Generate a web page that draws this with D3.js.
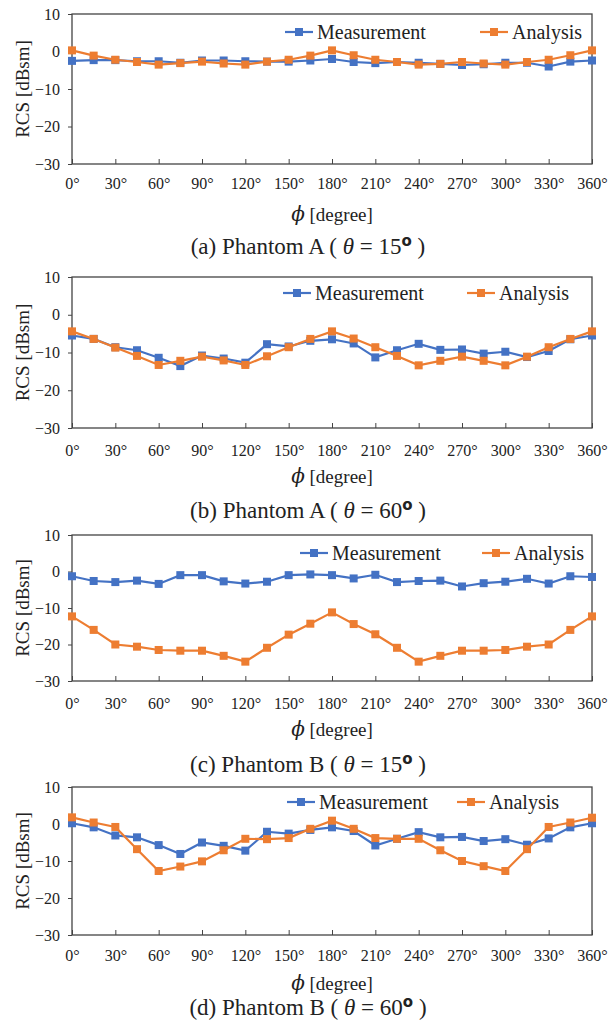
<!DOCTYPE html>
<html>
<head>
<meta charset="utf-8">
<script src="https://cdn.jsdelivr.net/npm/d3@7"></script>
<style>
  body { margin: 0; background: #fff; }
  text { font-family: "Liberation Serif", "DejaVu Serif", serif; fill: #222; }
</style>
</head>
<body>
<script>
var phi = d3.range(0, 361, 15)

var xTicks = d3.range(0, 361, 30)
var yTicks = [10, 0, -10, -20, -30]

var seriesNames = ['Measurement', 'Analysis']

var captions = [
  ['(a) Phantom A ( ', '15'],
  ['(b) Phantom A ( ', '60'],
  ['(c) Phantom B ( ', '15'],
  ['(d) Phantom B ( ', '60']
]

var measA15 = [-2.5, -2.3, -2.3, -2.6, -2.6, -3.0, -2.4, -2.4, -2.6, -2.7, -2.7, -2.4, -2.0, -2.8, -3.1, -2.8, -3.0, -3.3, -3.6, -3.4, -3.0, -3.0, -4.0, -2.7, -2.4]
var anaA15 = [0.3, -1.1, -2.2, -2.8, -3.5, -3.1, -2.7, -3.2, -3.5, -2.7, -2.2, -1.1, 0.3, -1.0, -2.2, -2.8, -3.5, -3.3, -2.8, -3.2, -3.5, -2.8, -2.2, -1.0, 0.3]

var measA60 = [-5.5, -6.4, -8.6, -9.4, -11.4, -13.6, -10.8, -11.6, -12.7, -7.8, -8.4, -6.9, -6.5, -7.6, -11.3, -9.4, -7.7, -9.3, -9.2, -10.3, -9.8, -11.2, -9.6, -6.5, -5.5]
var anaA60 = [-4.4, -6.4, -8.7, -10.9, -13.3, -12.2, -11.1, -12.1, -13.3, -11.0, -8.6, -6.4, -4.4, -6.3, -8.6, -10.9, -13.4, -12.2, -11.1, -12.2, -13.4, -11.1, -8.6, -6.4, -4.4]

var measB15 = [-1.3, -2.6, -2.9, -2.5, -3.4, -1.0, -1.0, -2.7, -3.3, -2.8, -1.0, -0.8, -1.0, -1.9, -0.9, -2.9, -2.6, -2.5, -4.1, -3.2, -2.8, -2.0, -3.3, -1.3, -1.5]
var anaB15 = [-12.3, -16.0, -20.0, -20.6, -21.5, -21.7, -21.7, -23.1, -24.7, -20.9, -17.3, -14.3, -11.2, -14.4, -17.2, -20.9, -24.7, -23.1, -21.7, -21.7, -21.5, -20.6, -20.0, -16.0, -12.3]

var measB60 = [0.2, -0.9, -3.1, -3.6, -5.7, -8.1, -5.0, -5.9, -7.2, -2.1, -2.6, -1.6, -0.9, -1.9, -5.8, -4.0, -2.2, -3.6, -3.5, -4.6, -4.1, -5.6, -3.9, -0.9, 0.2]
var anaB60 = [1.8, 0.4, -0.8, -6.8, -12.7, -11.5, -10.1, -7.1, -4.0, -4.1, -3.8, -1.3, 0.9, -1.3, -3.8, -4.0, -4.0, -7.1, -10.0, -11.4, -12.7, -6.8, -0.8, 0.4, 1.7]

var panelData = [
  [measA15, anaA15],
  [measA60, anaA60],
  [measB15, anaB15],
  [measB60, anaB60]
]

var colors = ['#4472c4', '#ed7d31']

// layout per panel: plot top/bottom, legend positions, label baselines
var layout = [
  {top: 14, bottom: 164, legY: 32, legM: 285, legA: 480, tickY: 189, phiY: 221, capY: 254},
  {top: 277, bottom: 428, legY: 293, legM: 283, legA: 467, tickY: 456, phiY: 483, capY: 518},
  {top: 535, bottom: 681, legY: 553, legM: 300, legA: 482, tickY: 709, phiY: 736, capY: 772},
  {top: 787, bottom: 935, legY: 802, legM: 287, legA: 457, tickY: 961, phiY: 990, capY: 1015}
]

var svg = d3.select('body').append('svg')
  .attr('width', 610).attr('height', 1032)

var left = 72, right = 592

layout.forEach(function(L, i){
  var g = svg.append('g')
  var x = d3.scaleLinear().domain([0, 360]).range([left, right])
  var y = d3.scaleLinear().domain([-30, 10]).range([L.bottom, L.top])

  // y axis ticks + labels
  var yAxis = d3.axisLeft(y).tickValues(yTicks).tickSize(4).tickPadding(8).tickFormat(d3.format('d'))
  var ya = g.append('g').attr('transform', 'translate(' + left + ',0)').call(yAxis)
  ya.select('.domain').remove()
  ya.selectAll('line').attr('stroke', '#444')
  ya.selectAll('text').attr('font-size', 16).attr('font-family', '"Liberation Serif", serif').attr('fill', '#222')

  // x axis ticks inside
  var xAxis = d3.axisBottom(x).tickValues(xTicks).tickSize(-5).tickFormat(function(d){ return d + '°' })
  var xa = g.append('g').attr('transform', 'translate(0,' + L.bottom + ')').call(xAxis)
  xa.select('.domain').remove()
  xa.selectAll('line').attr('stroke', '#444')
  xa.selectAll('text').attr('y', null).attr('dy', null)
    .attr('transform', 'translate(0,' + (L.tickY - L.bottom) + ')')
    .attr('font-size', 16).attr('font-family', '"Liberation Serif", serif').attr('fill', '#222')

  // frame
  g.append('rect')
    .attr('x', left).attr('y', L.top)
    .attr('width', right - left).attr('height', L.bottom - L.top)
    .attr('fill', 'none').attr('stroke', '#444').attr('stroke-width', 1.3)

  var line = d3.line().x(function(d, j){ return x(phi[j]) }).y(function(d){ return y(d) })

  panelData[i].forEach(function(vals, k){
    g.append('path').attr('d', line(vals))
      .attr('fill', 'none').attr('stroke', colors[k]).attr('stroke-width', 2.2)
    g.selectAll(null).data(vals).enter().append('rect')
      .attr('x', function(d, j){ return x(phi[j]) - 4 })
      .attr('y', function(d){ return y(d) - 4 })
      .attr('width', 8).attr('height', 8)
      .attr('fill', colors[k])
  })

  // legend
  ;[L.legM, L.legA].forEach(function(lx, k){
    g.append('line').attr('x1', lx).attr('x2', lx + 28)
      .attr('y1', L.legY).attr('y2', L.legY)
      .attr('stroke', colors[k]).attr('stroke-width', 2.2)
    g.append('rect').attr('x', lx + 14 - 4).attr('y', L.legY - 4)
      .attr('width', 8).attr('height', 8).attr('fill', colors[k])
    g.append('text').attr('x', lx + 32).attr('y', L.legY + 7)
      .attr('font-size', 20).text(seriesNames[k])
  })

  // y label
  g.append('text')
    .attr('transform', 'translate(29,' + ((L.top + L.bottom) / 2) + ') rotate(-90)')
    .attr('text-anchor', 'middle').attr('font-size', 19)
    .text('RCS [dBsm]')

  // x label
  var xl = g.append('text').attr('x', 332).attr('y', L.phiY)
    .attr('text-anchor', 'middle').attr('font-size', 19)
  xl.append('tspan').attr('font-style', 'italic').attr('font-family', '"DejaVu Serif", serif').attr('font-size', 20).text('ϕ')
  xl.append('tspan').text('  [degree]')

  // caption
  var cap = g.append('text').attr('x', 308).attr('y', L.capY)
    .attr('text-anchor', 'middle').attr('font-size', 23)
  cap.append('tspan').text(captions[i][0])
  cap.append('tspan').attr('font-style', 'italic').text('θ')
  cap.append('tspan').text(' = ' + captions[i][1])
  cap.append('tspan').attr('font-family', '"DejaVu Sans", sans-serif').attr('font-weight', 'bold')
    .attr('font-size', 15).attr('dy', -8).text('o')
  cap.append('tspan').attr('dy', 8).text(' )')
})
</script>
</body>
</html>
